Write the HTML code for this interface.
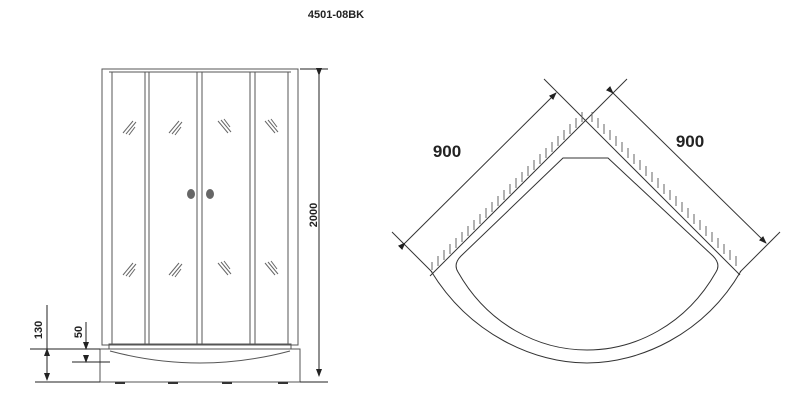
<!DOCTYPE html>
<html><head><style>body{margin:0;background:#fff}svg{display:block}</style></head><body>
<svg width="800" height="412" viewBox="0 0 800 412" xmlns="http://www.w3.org/2000/svg" font-family="Liberation Sans, sans-serif">
<defs><marker id="a" markerWidth="8" markerHeight="6" refX="7" refY="3" orient="auto"><path d="M0,0L8,3L0,6z" fill="#222"/></marker></defs>
<text x="336" y="18" font-size="11" font-weight="bold" text-anchor="middle" fill="#222">4501-08BK</text>
<g stroke="#555" stroke-width="1" fill="none">
<rect x="102" y="69" width="196" height="276"/>
<line x1="109" y1="72" x2="291" y2="72"/>
<line x1="112" y1="72" x2="112" y2="345"/><line x1="288" y1="72" x2="288" y2="345"/>
<line x1="145" y1="72" x2="145" y2="345"/><line x1="149" y1="72" x2="149" y2="345"/>
<line x1="197" y1="72" x2="197" y2="345"/><line x1="202" y1="72" x2="202" y2="345"/>
<line x1="250" y1="72" x2="250" y2="345"/><line x1="255" y1="72" x2="255" y2="345"/>
<rect x="109" y="344" width="182" height="5"/>
<rect x="100" y="349" width="200" height="33"/>
<path d="M110,351 Q200,375 290,351"/>
</g>
<g fill="#333"><rect x="115" y="382" width="10" height="2"/><rect x="168" y="382" width="10" height="2"/><rect x="222" y="382" width="10" height="2"/><rect x="278" y="382" width="10" height="2"/>
<ellipse cx="191" cy="194" rx="4" ry="5" fill="#666"/><ellipse cx="210" cy="194" rx="4" ry="5" fill="#666"/></g>
<g stroke="#666" stroke-width="1">
<path d="M123,133l10,-12M126,134l10,-12M129,135l6,-8"/>
<path d="M169,133l10,-12M172,134l10,-12M175,135l6,-8"/>
<path d="M218,121l10,12M221,120l10,12M224,119l6,8"/>
<path d="M265,121l10,12M268,120l10,12M271,119l6,8"/>
<path d="M123,275l10,-12M126,276l10,-12M129,277l6,-8"/>
<path d="M169,275l10,-12M172,276l10,-12M175,277l6,-8"/>
<path d="M218,263l10,12M221,262l10,12M224,261l6,8"/>
<path d="M265,263l10,12M268,262l10,12M271,261l6,8"/>
</g>
<g stroke="#222" stroke-width="1">
<line x1="300" y1="69" x2="328" y2="69"/><line x1="300" y1="382" x2="328" y2="382"/>
<line x1="319" y1="75" x2="319" y2="376" marker-start="url(#a)" marker-end="url(#a)"/>
<line x1="35" y1="382" x2="100" y2="382"/><line x1="30" y1="349" x2="100" y2="349"/>
<line x1="47" y1="305" x2="47" y2="380" marker-end="url(#a)"/>
<line x1="47" y1="355" x2="47" y2="349" marker-end="url(#a)"/>
<line x1="72" y1="362" x2="110" y2="362"/>
<line x1="86" y1="322" x2="86" y2="349" marker-end="url(#a)"/>
<line x1="86" y1="358" x2="86" y2="362" marker-end="url(#a)"/>
</g>
<g font-size="11" fill="#222" font-weight="bold">
<text transform="translate(317,215) rotate(-90)" text-anchor="middle">2000</text>
<text transform="translate(42,330) rotate(-90)" text-anchor="middle">130</text>
<text transform="translate(82,332) rotate(-90)" text-anchor="middle">50</text>
</g>
<!-- plan -->
<g stroke="#333" stroke-width="1" fill="none">
<line x1="627" y1="79" x2="430" y2="276"/>
<line x1="544" y1="79" x2="740" y2="275"/>
<line x1="392" y1="232" x2="432" y2="272"/>
<line x1="780" y1="232" x2="740" y2="272"/>
<line x1="405" y1="243" x2="556" y2="93" marker-start="url(#a)" marker-end="url(#a)"/>
<line x1="613" y1="93" x2="766" y2="243" marker-start="url(#a)" marker-end="url(#a)"/>
<path d="M431,271 C470,335 535,363 587,363 C639,363 704,335 741,271"/>
<path d="M563,158 L608,158 L713,256 Q721,264 716,272 C686,325 635,350 587,350 C539,350 488,325 458,272 Q453,264 461,256 Z"/>
</g>
<g stroke="#666" stroke-width="1">
<path d="M432,262v8M438,256v10M444,250v10M450,244v10M456,238v10M462,232v10M468,226v10M474,220v10M480,214v10M486,208v10M492,202v10M498,196v10M504,190v10M510,184v10M516,178v10M522,172v10M528,166v10M534,160v10M540,154v10M546,148v10M552,142v10M558,136v10M564,130v10M570,124v10M576,118v10M582,112v10"/>
<path d="M592,112v10M598,118v10M604,124v10M610,130v10M616,136v10M622,142v10M628,148v10M634,154v10M640,160v10M646,166v10M652,172v10M658,178v10M664,184v10M670,190v10M676,196v10M682,202v10M688,208v10M694,214v10M700,220v10M706,226v10M712,232v10M718,238v10M724,244v10M730,250v10M736,256v10"/>
</g>
<g font-size="17" font-weight="bold" fill="#222">
<text x="447" y="157" text-anchor="middle">900</text>
<text x="690" y="147" text-anchor="middle">900</text>
</g>
</svg>
</body></html>
